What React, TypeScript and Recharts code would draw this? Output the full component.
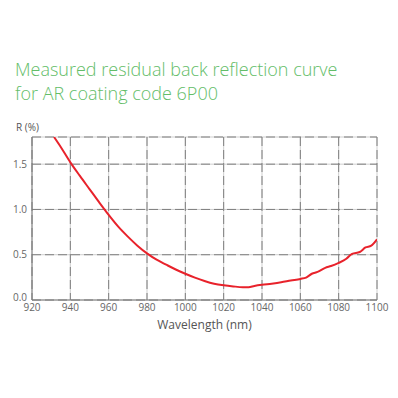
import React from 'react';
import { LineChart, Line, XAxis, YAxis, CartesianGrid, Label } from 'recharts';

const wavelengths = [
  931.5, 935, 940, 945, 950, 955, 960, 965, 970, 975, 980, 985, 990, 995, 1000,
  1005, 1010, 1015, 1020, 1025, 1030, 1033, 1036, 1040, 1045, 1050, 1055, 1060,
  1063, 1066, 1069, 1073, 1076, 1080, 1084, 1087, 1091, 1094, 1097, 1100,
];
const reflectance = [
  1.8, 1.69, 1.52, 1.37, 1.225, 1.08, 0.94, 0.81, 0.7, 0.6, 0.515, 0.445, 0.39,
  0.337, 0.29, 0.247, 0.21, 0.18, 0.162, 0.15, 0.142, 0.142, 0.155, 0.168, 0.18,
  0.195, 0.215, 0.233, 0.248, 0.29, 0.31, 0.355, 0.375, 0.41, 0.455, 0.51, 0.53,
  0.58, 0.6, 0.67,
];

const xTicks = [920, 940, 960, 980, 1000, 1020, 1040, 1060, 1080, 1100];
const yTicks = [0, 0.5, 1.0, 1.5];
const xMinor = Array.from({ length: 37 }, (_, i) => 920 + i * 5);
const yMinor = Array.from({ length: 19 }, (_, i) => +(i * 0.1).toFixed(1));

const titleLines = ['Measured residual back reflection curve', 'for AR coating code 6P00'];

const data = wavelengths.map((w, i) => ({ w, r: reflectance[i] }));

const FONT = '"Open Sans", "DejaVu Sans", sans-serif';
const AXIS = '#7a7a7a';

// y labels sit on their gridline, except 0.0 which is nudged up off the x labels
function YTick(props: any) {
  const { x, y, payload } = props;
  const shift = payload.value === 0 ? -3 : 0;
  return (
    <text x={x} y={y + shift} dy="0.355em" textAnchor="end" fill="#666" fontSize={10} fontFamily={FONT}>
      {Number(payload.value).toFixed(1)}
    </text>
  );
}

export default function App() {
  return (
    <div style={{ position: 'fixed', left: 0, top: 0, width: 398, height: 398, background: '#fff', fontFamily: FONT }}>
      <div style={{ position: 'absolute', left: 15, top: 58, color: '#63bd68', fontSize: 18, fontWeight: 300, lineHeight: '23.5px', whiteSpace: 'nowrap' }}>
        {titleLines.map((t) => (
          <div key={t}>{t}</div>
        ))}
      </div>
      <div style={{ position: 'absolute', left: 16, top: 120, color: '#555', fontSize: 10 }}>R (%)</div>
      <LineChart
        width={398}
        height={398}
        data={data}
        margin={{ top: 137, right: 21, left: 8, bottom: 84 }}
        style={{ fontFamily: FONT }}
      >
        <CartesianGrid xAxisId="main" yAxisId="main" stroke="#cfcfcf" strokeWidth={1} />
        <CartesianGrid xAxisId="main" yAxisId="main" stroke="#7f7f7f" strokeWidth={1} strokeDasharray="9 4" />
        <XAxis
          xAxisId="main"
          dataKey="w"
          type="number"
          domain={[920, 1100]}
          ticks={xTicks}
          allowDataOverflow
          height={14}
          tickSize={0}
          tickMargin={4}
          tickLine={false}
          axisLine={{ stroke: AXIS }}
          tick={{ fill: '#666', fontSize: 10 }}
        >
          <Label value="Wavelength (nm)" position="bottom" offset={6} fill="#555" fontSize={12} />
        </XAxis>
        <XAxis
          xAxisId="minorB"
          type="number"
          domain={[920, 1100]}
          ticks={xMinor}
          allowDataOverflow
          mirror
          height={0}
          tick={false}
          tickSize={4}
          tickLine={{ stroke: AXIS }}
          axisLine={false}
        />
        <XAxis
          xAxisId="minorT"
          orientation="top"
          type="number"
          domain={[920, 1100]}
          ticks={xMinor}
          allowDataOverflow
          mirror
          height={0}
          tick={false}
          tickSize={4}
          tickLine={{ stroke: AXIS }}
          axisLine={{ stroke: AXIS }}
        />
        <YAxis
          yAxisId="main"
          type="number"
          domain={[0, 1.8]}
          ticks={yTicks}
          allowDataOverflow
          width={24}
          tickSize={0}
          tickMargin={5}
          tickLine={false}
          axisLine={{ stroke: AXIS }}
          tick={<YTick />}
        />
        <YAxis
          yAxisId="minorL"
          type="number"
          domain={[0, 1.8]}
          ticks={yMinor}
          allowDataOverflow
          mirror
          width={0}
          tick={false}
          tickSize={4}
          tickLine={{ stroke: AXIS }}
          axisLine={false}
        />
        <YAxis
          yAxisId="minorR"
          orientation="right"
          type="number"
          domain={[0, 1.8]}
          ticks={yMinor}
          allowDataOverflow
          mirror
          width={0}
          tick={false}
          tickSize={4}
          tickLine={{ stroke: AXIS }}
          axisLine={{ stroke: AXIS }}
        />
        <Line
          xAxisId="main"
          yAxisId="main"
          dataKey="r"
          type="monotone"
          stroke="#e8222b"
          strokeWidth={2}
          dot={false}
          isAnimationActive={false}
        />
      </LineChart>
    </div>
  );
}
